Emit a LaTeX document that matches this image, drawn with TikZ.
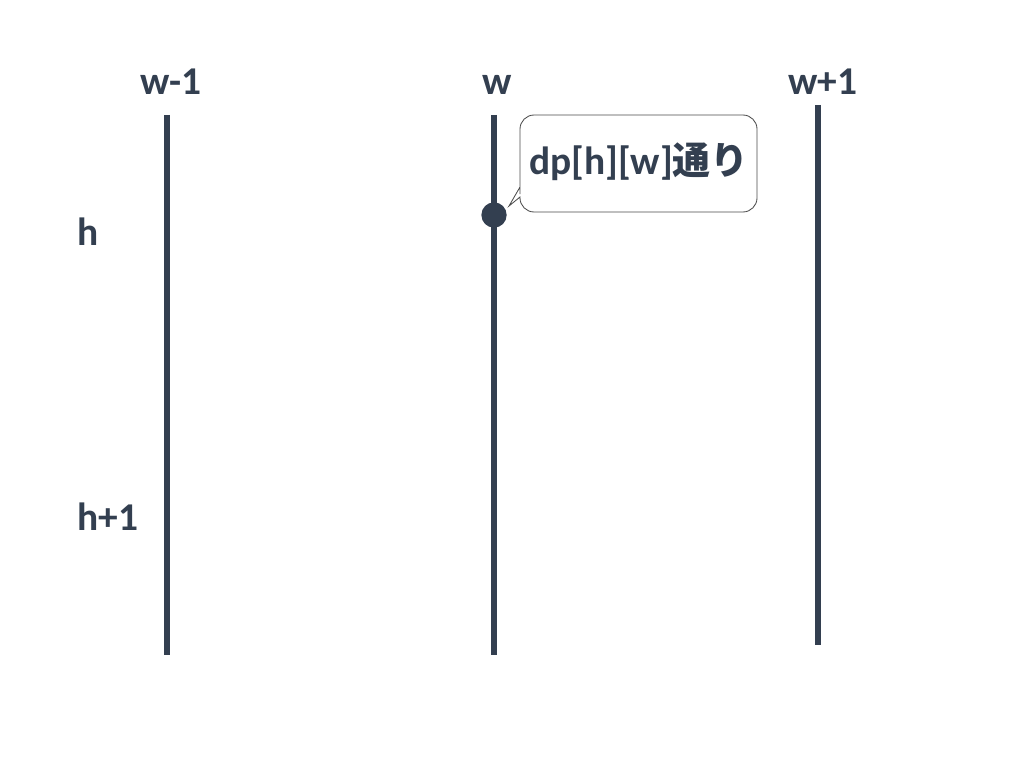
\documentclass[tikz,border=0pt]{standalone}
\usepackage{fontspec}
\setmainfont{Carlito}
\newfontfamily\jpfont{Noto Sans CJK JP}
\usetikzlibrary{positioning}
\definecolor{slate}{HTML}{333F50}

\begin{document}
\begin{tikzpicture}[x=0.025cm, y=-0.025cm,
	line cap=butt,
	grid/.style={slate, line width=3.6pt},
	label/.style={text=slate, font=\fontsize{28}{32}\selectfont\bfseries, inner sep=0pt},
	wlabel/.style={label, anchor=base},
	hlabel/.style={label, anchor=base west},
	bubble/.style={draw=black!70, line width=0.6pt, fill=white, rounded corners=10pt}]
	
	\useasboundingbox (0,0) rectangle (1024,768);
	
	% column lines
	\coordinate (wm top) at (167,115);
	\coordinate (wm bot) at (167,655);
	\coordinate (w top) at (494,115);
	\coordinate (w bot) at (494,655);
	\coordinate (wp top) at (818,105);
	\coordinate (wp bot) at (818,645);
	
	\draw [grid] (wm top) -- (wm bot);
	\draw [grid] (w top) -- (w bot);
	\draw [grid] (wp top) -- (wp bot);
	
	% column labels
	\node [wlabel] (wm) at (171,95) {w-1};
	\node [wlabel] (w) at (497,95) {w};
	\node [wlabel] (wp) at (823,95) {w+1};
	
	% row labels
	\node [hlabel] (h) at (77,245) {h};
	\node [hlabel] (hp) at (77,530) {h+1};
	
	% point and callout
	\node [circle, fill=slate, inner sep=0pt, minimum size=18pt] (pt) at (494,215) {};
	
	\path [bubble] (520,180) -- (520,115) -- (757,115) -- (757,212) -- (520,212)
	[sharp corners] -- (520,197) -- (509,206) -- (520,187) [rounded corners=10pt] -- cycle;
	\node [label] (note) at (639,162) {dp[h][w]{\jpfont\bfseries\fontsize{27}{32}\selectfont 通り}};
	
\end{tikzpicture}
\end{document}
